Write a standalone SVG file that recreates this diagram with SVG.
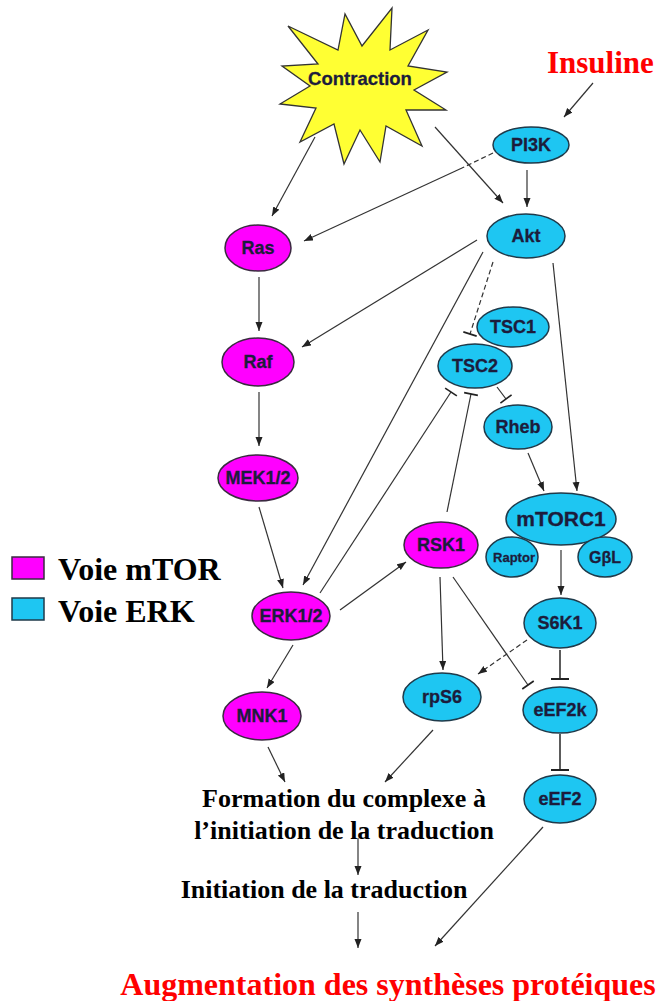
<svg xmlns="http://www.w3.org/2000/svg" width="658" height="1001" viewBox="0 0 658 1001">
<defs>
<style>
.m{fill:#ff00ff;stroke:#3a2a40;stroke-width:1.5}
.c{fill:#1ec6f2;stroke:#1f3a4a;stroke-width:1.5}
.t{font-family:"Liberation Sans",Arial,sans-serif;font-weight:bold;font-size:18px;fill:#1c1c3c;text-anchor:middle;stroke:#1c1c3c;stroke-width:0.3}
.big{font-family:"Liberation Serif","Times New Roman",serif;font-weight:bold;fill:#000}
.red{fill:#ff0000}
.e{stroke:#333;stroke-width:1.2;fill:none}
.a{marker-end:url(#arr)}
.i{marker-end:url(#bar)}
.d{stroke-dasharray:5 3}
</style>
<marker id="arr" markerUnits="userSpaceOnUse" markerWidth="10" markerHeight="8" refX="9" refY="3.5" orient="auto" viewBox="0 0 10 8">
<path d="M0,0 L9,3.5 L0,7 z" fill="#222"/>
</marker>
<marker id="bar" markerUnits="userSpaceOnUse" markerWidth="4" markerHeight="16" refX="1.5" refY="8" orient="auto" viewBox="0 0 4 16">
<path d="M1.5,1 L1.5,15" stroke="#222" stroke-width="1.6"/>
</marker>
</defs>
<rect width="658" height="1001" fill="#fff"/>

<g id="connectors">
<line class="e a" x1="593" y1="83" x2="564" y2="117"/>
<line class="e a" x1="527" y1="170" x2="527" y2="207"/>
<line class="e a" x1="435" y1="127" x2="503" y2="203"/>
<line class="e a" x1="315" y1="137" x2="272" y2="216"/>
<line class="e d" x1="493" y1="153" x2="462" y2="168"/>
<line class="e a" x1="462" y1="168" x2="304" y2="241"/>
<line class="e a" x1="259" y1="277" x2="259" y2="331"/>
<line class="e a" x1="477" y1="240" x2="302" y2="347"/>
<line class="e a" x1="259" y1="392" x2="259" y2="446"/>
<line class="e a" x1="259" y1="507" x2="283" y2="588"/>
<line class="e a" x1="483" y1="252" x2="303" y2="585"/>
<line class="e i" x1="320" y1="593" x2="451" y2="392"/>
<line class="e i" x1="447" y1="512" x2="471" y2="394"/>
<line class="e d i" x1="493" y1="262" x2="470" y2="334"/>
<line class="e i" x1="497" y1="387" x2="506" y2="399"/>
<line class="e a" x1="528" y1="453" x2="544" y2="491"/>
<line class="e a" x1="553" y1="263" x2="577" y2="491"/>
<line class="e a" x1="561" y1="550" x2="561" y2="595"/>
<line class="e a" x1="340" y1="610" x2="406" y2="562"/>
<line class="e a" x1="440" y1="577" x2="443" y2="670"/>
<line class="e i" x1="453" y1="577" x2="528" y2="685"/>
<line class="e d a" x1="527" y1="640" x2="478" y2="674"/>
<line class="e" x1="560" y1="650" x2="560" y2="679" style="stroke-width:1.6"/>
<line x1="551" y1="679" x2="569" y2="679" stroke="#222" stroke-width="2"/>
<line class="e" x1="560" y1="734" x2="560" y2="770" style="stroke-width:1.6"/>
<line x1="551" y1="770" x2="569" y2="770" stroke="#222" stroke-width="2"/>
<line class="e a" x1="543" y1="827" x2="435" y2="946"/>
<line class="e a" x1="293" y1="645" x2="267" y2="688"/>
<line class="e a" x1="268" y1="747" x2="285" y2="782"/>
<line class="e a" x1="433" y1="730" x2="385" y2="782"/>
<line class="e a" x1="358" y1="838" x2="358" y2="875"/>
<line class="e a" x1="358" y1="912" x2="358" y2="948"/>
</g>

<g id="contraction">
<polygon points="392,8 390,50 428,30 408,66 447,72 414,90 446,110 406,110 422,146 386,126 380,162 360,130 344,164 334,124 300,142 316,108 280,104 310,86 282,66 318,64 288,26 338,50 345,14 362,46" fill="#ffff33" stroke="#333" stroke-width="1.3"/>
<text class="t" x="360" y="85" style="font-size:18.5px">Contraction</text>
</g>

<g id="insuline"><text class="big red" x="547" y="73" font-size="31">Insuline</text></g>

<g id="pi3k"><ellipse class="c" cx="531" cy="145" rx="38" ry="18"/><text class="t" x="531" y="151">PI3K</text></g>
<g id="akt"><ellipse class="c" cx="526" cy="236" rx="39" ry="22"/><text class="t" x="526" y="242">Akt</text></g>
<g id="ras"><ellipse class="m" cx="258" cy="248" rx="33" ry="23"/><text class="t" x="258" y="254">Ras</text></g>
<g id="raf"><ellipse class="m" cx="258" cy="362" rx="36" ry="24"/><text class="t" x="258" y="368">Raf</text></g>
<g id="mek"><ellipse class="m" cx="258" cy="478" rx="40" ry="23"/><text class="t" x="258" y="484">MEK1/2</text></g>
<g id="erk"><ellipse class="m" cx="291" cy="616" rx="39" ry="24"/><text class="t" x="291" y="622">ERK1/2</text></g>
<g id="mnk1"><ellipse class="m" cx="262" cy="716" rx="39" ry="24"/><text class="t" x="262" y="722">MNK1</text></g>
<g id="tsc1"><ellipse class="c" cx="513" cy="327" rx="36" ry="20"/><text class="t" x="513" y="333">TSC1</text></g>
<g id="tsc2"><ellipse class="c" cx="475" cy="366" rx="37" ry="22"/><text class="t" x="475" y="372">TSC2</text></g>
<g id="rheb"><ellipse class="c" cx="518" cy="427" rx="34" ry="22"/><text class="t" x="518" y="433">Rheb</text></g>
<g id="mtorc1"><ellipse class="c" cx="561" cy="519" rx="55" ry="26"/><text class="t" x="561" y="526" style="font-size:21px">mTORC1</text></g>
<g id="raptor"><ellipse class="c" cx="512" cy="557" rx="26" ry="20"/><text class="t" x="514" y="562" style="font-size:13px">Raptor</text></g>
<g id="gbl"><ellipse class="c" cx="605" cy="557" rx="27" ry="20"/><text class="t" x="605" y="563" style="font-size:16px">GβL</text></g>
<g id="rsk1"><ellipse class="m" cx="441" cy="545" rx="37" ry="23"/><text class="t" x="441" y="551">RSK1</text></g>
<g id="s6k1"><ellipse class="c" cx="560" cy="623" rx="36" ry="25"/><text class="t" x="560" y="629">S6K1</text></g>
<g id="rps6"><ellipse class="c" cx="442" cy="697" rx="39" ry="24"/><text class="t" x="442" y="703">rpS6</text></g>
<g id="eef2k"><ellipse class="c" cx="560" cy="710" rx="37" ry="23"/><text class="t" x="560" y="716">eEF2k</text></g>
<g id="eef2"><ellipse class="c" cx="560" cy="799" rx="36" ry="24"/><text class="t" x="560" y="805">eEF2</text></g>

<g id="legend">
<rect class="m" x="12" y="557" width="32" height="22"/>
<text class="big" x="58" y="580" font-size="32">Voie mTOR</text>
<rect class="c" x="12" y="598" width="32" height="22"/>
<text class="big" x="58" y="622" font-size="32">Voie ERK</text>
</g>

<g id="formation"><text class="big" font-size="26" text-anchor="middle"><tspan x="344" y="807">Formation du complexe à</tspan><tspan x="344" y="839">l’initiation de la traduction</tspan></text></g>
<g id="initiation"><text class="big" x="324" y="898" font-size="26" text-anchor="middle">Initiation de la traduction</text></g>
<g id="augmentation"><text class="big red" x="388" y="995" font-size="32" text-anchor="middle">Augmentation des synthèses protéiques</text></g>
</svg>
